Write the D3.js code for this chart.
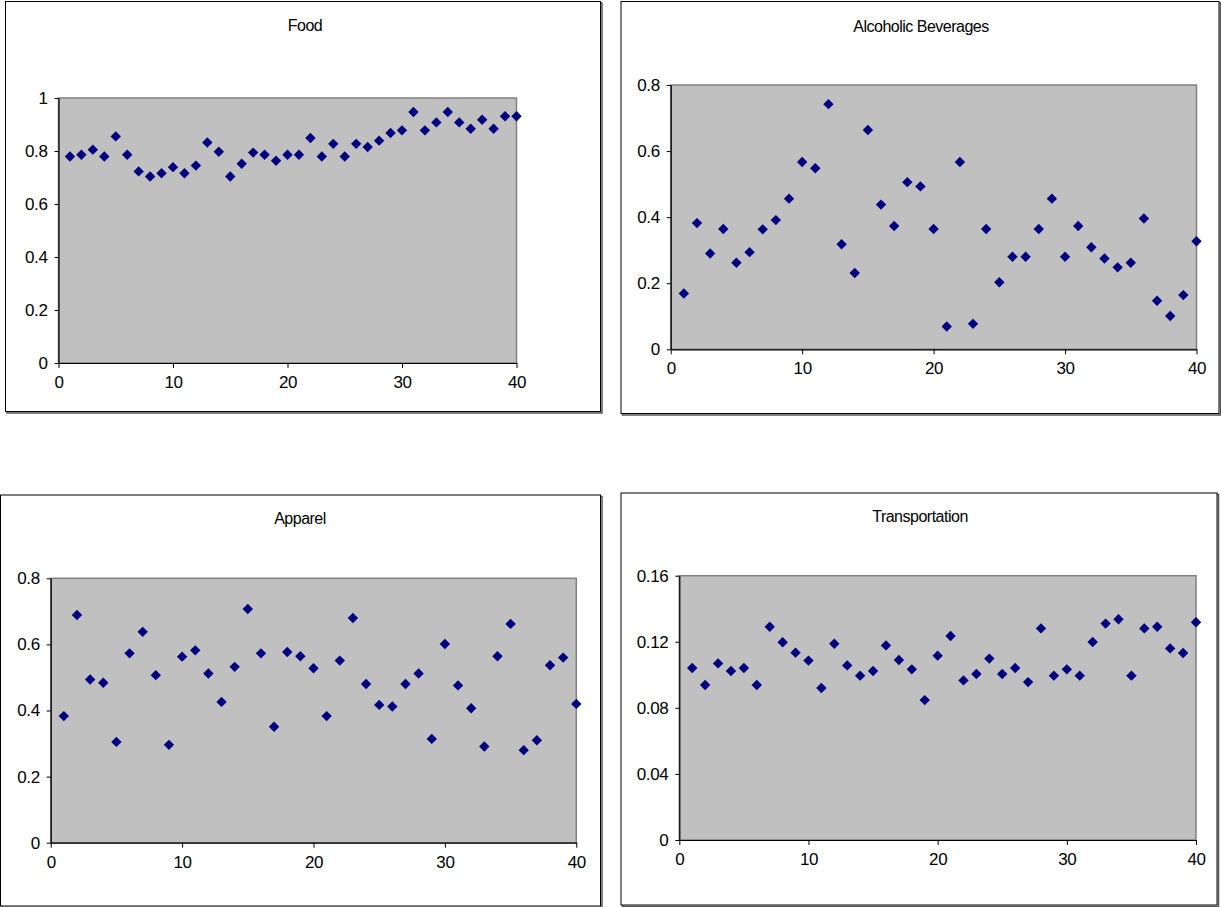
<!DOCTYPE html>
<html><head><meta charset="utf-8">
<script src="https://cdn.jsdelivr.net/npm/d3@7"></script>
<style>body{margin:0;background:#fff}svg{display:block}text{font-family:"Liberation Sans",Arial,sans-serif;fill:#000}</style>
</head><body><svg id="c" width="1221" height="907"></svg>
<script>
const xs = d3.range(1, 41);
const food = [0.779,0.786,0.805,0.779,0.855,0.786,0.723,0.704,0.716,0.739,0.716,0.745,0.832,0.797,0.704,0.752,0.794,0.786,0.763,0.786,
              0.786,0.849,0.779,0.827,0.779,0.827,0.815,0.839,0.868,0.878,0.947,0.878,0.908,0.947,0.908,0.884,0.918,0.884,0.931,0.931];
const alcohol = [0.169,0.382,0.290,0.364,0.262,0.294,0.363,0.391,0.456,0.567,0.548,0.742,0.318,0.231,0.664,0.438,0.373,0.506,0.493,0.364,
                 0.069,0.567,0.077,0.364,0.203,0.280,0.280,0.364,0.456,0.280,0.373,0.309,0.275,0.248,0.262,0.396,0.147,0.101,0.164,0.327];
const apparel = [0.383,0.689,0.494,0.484,0.305,0.573,0.638,0.507,0.296,0.563,0.582,0.512,0.426,0.532,0.707,0.573,0.351,0.577,0.564,0.528,
                 0.383,0.551,0.680,0.480,0.417,0.412,0.480,0.512,0.314,0.601,0.476,0.407,0.291,0.564,0.662,0.280,0.310,0.537,0.560,0.420];
const transport = [0.1041,0.0938,0.1069,0.1023,0.1041,0.0938,0.1291,0.1197,0.1134,0.1086,0.0920,0.1188,0.1057,0.0995,0.1023,0.1178,0.1090,0.1033,0.0847,0.1116,
                   0.1235,0.0966,0.1005,0.1098,0.1005,0.1041,0.0956,0.1281,0.0995,0.1033,0.0995,0.1199,0.1310,0.1336,0.0995,0.1281,0.1291,0.1160,0.1132,0.1318];
const titles = ["Food", "Alcoholic Beverages", "Apparel", "Transportation"];
const xTicks = [0, 10, 20, 30, 40];
const xTickLabels = ["0", "10", "20", "30", "40"];
const yTicksFood = [0, 0.2, 0.4, 0.6, 0.8, 1];
const yLabelsFood = ["0", "0.2", "0.4", "0.6", "0.8", "1"];
const yTicks08 = [0, 0.2, 0.4, 0.6, 0.8];
const yLabels08 = ["0", "0.2", "0.4", "0.6", "0.8"];
const yTicksTrans = [0, 0.04, 0.08, 0.12, 0.16];
const yLabelsTrans = ["0", "0.04", "0.08", "0.12", "0.16"];

const panels = [
  {title: titles[0], data: food, yt: yTicksFood, yl: yLabelsFood, ymax: 1,
   box: [5.5, 1.5, 595, 410], px: [58.5, 516.5], py: [363, 98], tx: 305, ty: 25},
  {title: titles[1], data: alcohol, yt: yTicks08, yl: yLabels08, ymax: 0.8,
   box: [621, 1.5, 598, 412], px: [670.7, 1196.5], py: [349.3, 85], tx: 921, ty: 26},
  {title: titles[2], data: apparel, yt: yTicks08, yl: yLabels08, ymax: 0.8,
   box: [0.5, 495, 600, 411], px: [50.7, 576.3], py: [842.7, 578.3], tx: 300, ty: 518},
  {title: titles[3], data: transport, yt: yTicksTrans, yl: yLabelsTrans, ymax: 0.16,
   box: [621, 493, 596, 412], px: [679.3, 1196], py: [840, 575.7], tx: 920, ty: 516}
];

const svg = d3.select("#c");
const diamond = d3.symbol().type(d3.symbolSquare).size(54);

panels.forEach(p => {
  const g = svg.append("g");
  const [bx, by, bw, bh] = p.box;
  g.append("rect").attr("x", bx + 1.5).attr("y", by + 1.5).attr("width", bw).attr("height", bh)
    .attr("fill", "none").attr("stroke", "#555").attr("stroke-width", 1.5);
  g.append("rect").attr("x", bx).attr("y", by).attr("width", bw).attr("height", bh)
    .attr("fill", "#fff").attr("stroke", "#000").attr("stroke-width", 1);

  const x = d3.scaleLinear().domain([0, 40]).range(p.px);
  const y = d3.scaleLinear().domain([0, p.ymax]).range(p.py);

  g.append("rect").attr("x", x(0)).attr("y", y(p.ymax))
    .attr("width", x(40) - x(0)).attr("height", y(0) - y(p.ymax))
    .attr("fill", "#c0c0c0").attr("stroke", "#808080").attr("stroke-width", 1.5);

  const xAxis = d3.axisBottom(x).tickValues(xTicks).tickFormat((d, i) => xTickLabels[i])
    .tickSizeInner(5).tickSizeOuter(0).tickPadding(8);
  const gx = g.append("g").attr("transform", `translate(0,${y(0)})`).call(xAxis);
  const yAxis = d3.axisLeft(y).tickValues(p.yt).tickFormat((d, i) => p.yl[i])
    .tickSizeInner(4).tickSizeOuter(0).tickPadding(7);
  const gy = g.append("g").attr("transform", `translate(${x(0)},0)`).call(yAxis);
  [gx, gy].forEach(a => {
    a.select(".domain").attr("stroke", "#000").attr("stroke-width", 1.2);
    a.selectAll(".tick line").attr("stroke", "#000");
    a.selectAll(".tick text").attr("font-size", 17).attr("font-family", "Liberation Sans, Arial, sans-serif")
      .attr("fill", "#000").attr("letter-spacing", "-0.4");
  });

  g.append("text").attr("x", p.tx).attr("y", p.ty).attr("text-anchor", "middle")
    .attr("dominant-baseline", "central").attr("font-size", 16).attr("letter-spacing", "-0.5")
    .text(p.title);

  g.append("g").selectAll("path").data(p.data).join("path")
    .attr("d", diamond)
    .attr("transform", (d, i) => `translate(${x(xs[i])},${y(d)}) rotate(45)`)
    .attr("fill", "#000080");
});
</script></body></html>
